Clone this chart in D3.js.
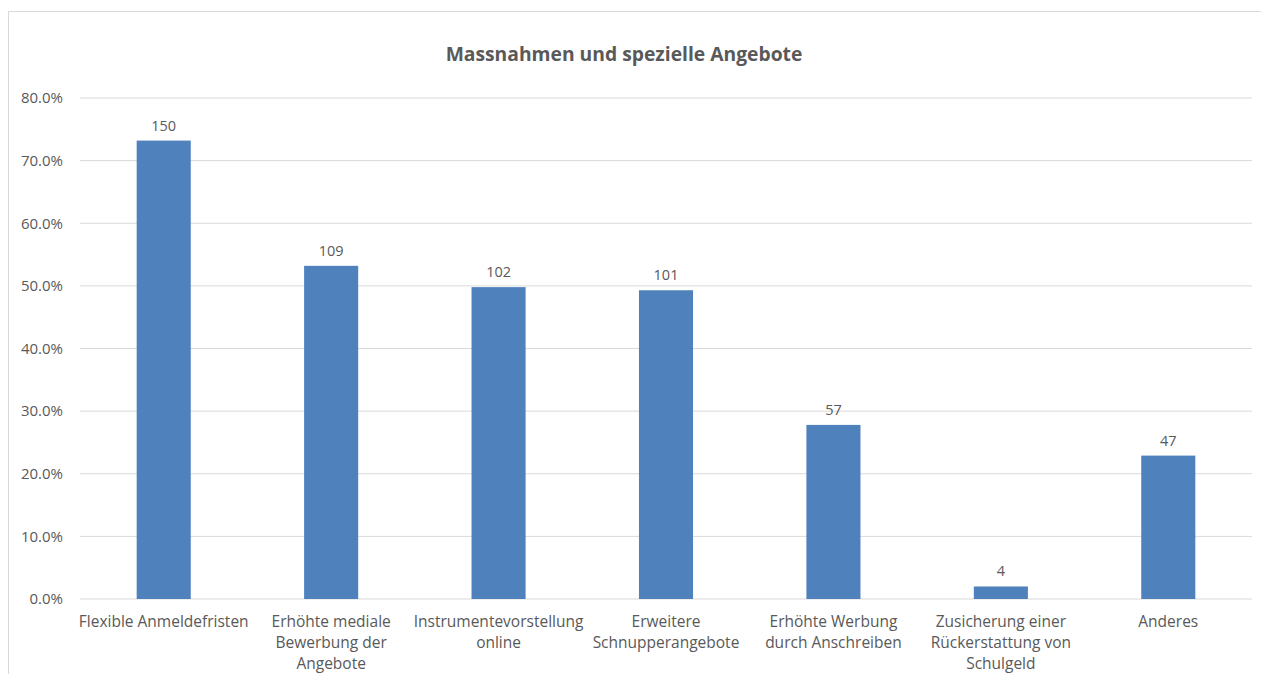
<!DOCTYPE html>
<html>
<head>
<meta charset="utf-8">
<script src="https://cdn.jsdelivr.net/npm/d3@7"></script>
<style>
  body { margin: 0; background: #fff; }
  text { font-family: "Open Sans", sans-serif; fill: #595959; }
</style>
</head>
<body>
<div id="chart"></div>
<script>
const categories = [
  ["Flexible Anmeldefristen"],
  ["Erhöhte mediale", "Bewerbung der", "Angebote"],
  ["Instrumentevorstellung", "online"],
  ["Erweitere", "Schnupperangebote"],
  ["Erhöhte Werbung", "durch Anschreiben"],
  ["Zusicherung einer", "Rückerstattung von", "Schulgeld"],
  ["Anderes"]
];
const percents = [73.2, 53.2, 49.8, 49.3, 27.8, 2.0, 22.9];
const counts = [150, 109, 102, 101, 57, 4, 47];
const yTicks = [0, 10, 20, 30, 40, 50, 60, 70, 80];

const width = 1261, height = 674;
const margin = { top: 98, right: 9, bottom: 75, left: 80 };

const svg = d3.select("#chart").append("svg")
  .attr("width", width)
  .attr("height", height);

// chart frame
svg.append("rect")
  .attr("x", 8.5).attr("y", 11.5)
  .attr("width", width).attr("height", height)
  .attr("fill", "none")
  .attr("stroke", "#d9d9d9");

const x = d3.scaleBand()
  .domain(d3.range(categories.length))
  .range([margin.left, width - margin.right])
  .paddingInner(0.677)
  .paddingOuter(0.3385);

const y = d3.scaleLinear()
  .domain([0, 80])
  .range([height - margin.bottom, margin.top]);

// gridlines
svg.append("g")
  .selectAll("line")
  .data(yTicks)
  .join("line")
  .attr("x1", margin.left)
  .attr("x2", width - margin.right)
  .attr("y1", d => y(d))
  .attr("y2", d => y(d))
  .attr("stroke", "#d9d9d9");

// y axis labels
const yAxis = d3.axisLeft(y)
  .tickValues(yTicks)
  .tickSize(0)
  .tickPadding(17)
  .tickFormat(d => d.toFixed(1) + "%");

svg.append("g")
  .attr("transform", "translate(" + margin.left + ",0)")
  .call(yAxis)
  .call(g => g.select(".domain").remove())
  .call(g => g.selectAll("text")
    .style("font-size", "15px")
    .attr("fill", "#595959"));

// bars
svg.append("g")
  .selectAll("rect")
  .data(percents)
  .join("rect")
  .attr("x", (d, i) => x(i))
  .attr("y", d => y(d))
  .attr("width", x.bandwidth())
  .attr("height", d => y(0) - y(d))
  .attr("fill", "#4f81bd");

// value labels
svg.append("g")
  .selectAll("text")
  .data(percents)
  .join("text")
  .attr("x", (d, i) => x(i) + x.bandwidth() / 2)
  .attr("y", d => y(d) - 10)
  .attr("text-anchor", "middle")
  .style("font-size", "14.5px")
  .text((d, i) => counts[i]);

// category labels
const cat = svg.append("g")
  .selectAll("text")
  .data(categories)
  .join("text")
  .attr("x", (d, i) => x(i) + x.bandwidth() / 2)
  .attr("y", y(0) + 28)
  .attr("text-anchor", "middle")
  .style("font-size", "15.5px");

cat.selectAll("tspan")
  .data((d, i) => d.map(line => ({ line, i })))
  .join("tspan")
  .attr("x", d => x(d.i) + x.bandwidth() / 2)
  .attr("dy", (d, j) => j === 0 ? 0 : 21)
  .text(d => d.line);

// title
svg.append("text")
  .attr("x", 624)
  .attr("y", 61)
  .attr("text-anchor", "middle")
  .style("font-size", "19.3px")
  .style("font-weight", "bold")
  .text("Massnahmen und spezielle Angebote");
</script>
</body>
</html>
